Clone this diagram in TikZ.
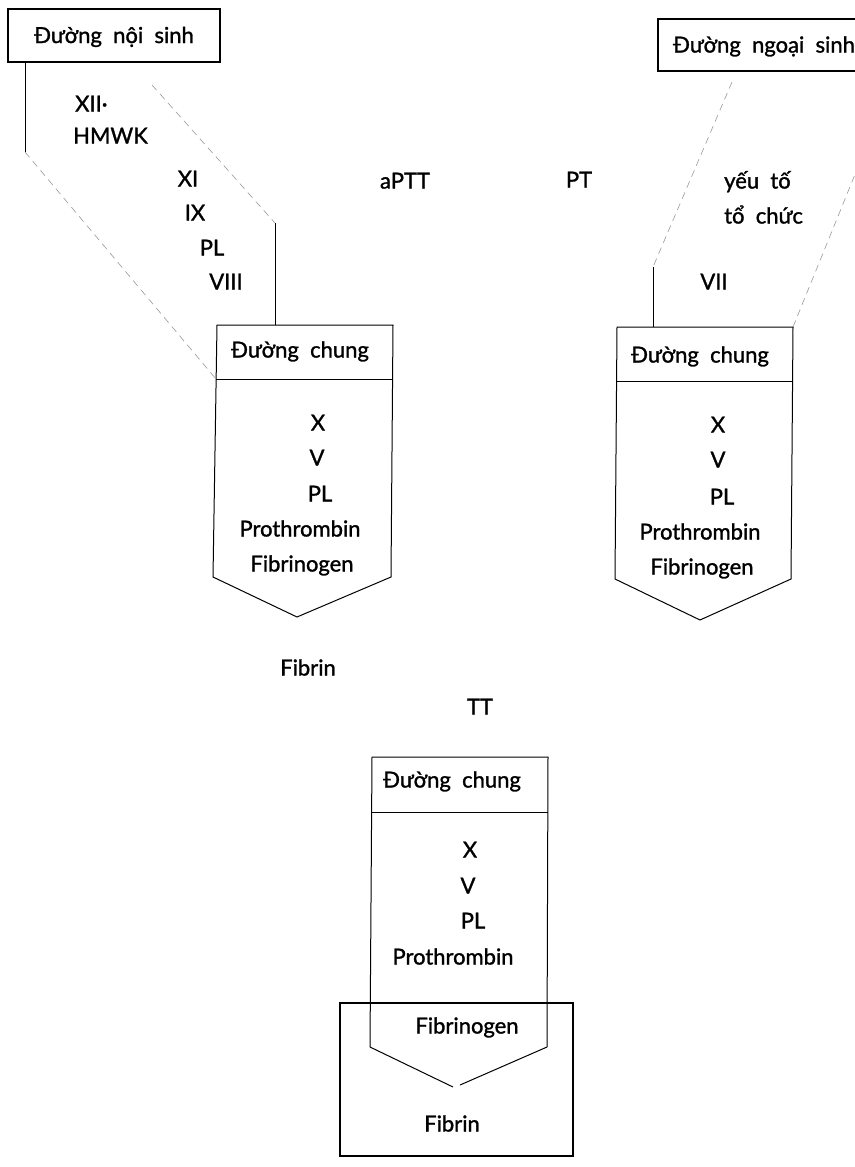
\documentclass[tikz,border=0pt]{standalone}
\usepackage{fontspec}
\setmainfont{Lato}[UprightFeatures={FakeBold=1.3}]
\begin{document}
\begin{tikzpicture}[x=1pt,y=-1pt]
\tikzset{
  lbl/.style={font=\fontsize{22}{26}\selectfont, inner sep=0pt, text height=15pt, text depth=0pt},
  frame/.style={draw, line width=1.4pt, inner sep=0pt, text height=15pt, text depth=0pt, font=\fontsize{22}{26}\selectfont},
  side/.style={draw, line width=1pt},
  faint/.style={draw=black!40, line width=0.6pt, dash pattern=on 7pt off 5pt}
}
\useasboundingbox (0,0) rectangle (854,1167);
\fill[white] (0,0) rectangle (854,1167);

% title boxes
\node[frame, minimum width=212pt, minimum height=53pt] (ns) at (114,35.5) {Đường\ \ nội\ \ sinh};
\node[frame, minimum width=212pt, minimum height=52pt] (ngs) at (764,45) {Đường\ \ ngoại\ \ sinh};

% ---- box 1 (intrinsic common pathway)
\coordinate (b1tl) at (217,325); \coordinate (b1tr) at (393,325);
\coordinate (b1br) at (391,577); \coordinate (b1tip) at (297,617);
\coordinate (b1bl) at (213,577);
\coordinate (b1dl) at (216,379); \coordinate (b1dr) at (392,379);
\draw[side] (b1tl) -- (b1tr) -- (b1br) -- (b1tip) -- (b1bl) -- cycle;
\draw[side] (b1dl) -- (b1dr);

% intrinsic paths
\coordinate (ns1) at (25,62); \coordinate (ns2) at (25,152);
\draw[side] (ns1) -- (ns2);
\draw[faint] (ns2) -- (b1dl);
\coordinate (i1) at (152,85); \coordinate (i2) at (275,223); \coordinate (i3) at (275,325);
\draw[faint] (i1) -- (i2);
\draw[side] (i2) -- (i3);

% ---- box 2 (extrinsic common pathway)
\coordinate (b2tl) at (617,327); \coordinate (b2tr) at (793,327);
\coordinate (b2br) at (791,579); \coordinate (b2tip) at (700,620);
\coordinate (b2bl) at (615,579);
\coordinate (b2dl) at (616,381); \coordinate (b2dr) at (792,381);
\draw[side] (b2tl) -- (b2tr) -- (b2br) -- (b2tip) -- (b2bl) -- cycle;
\draw[side] (b2dl) -- (b2dr);

\coordinate (e1) at (732,82); \coordinate (e2) at (653,267); \coordinate (e3) at (653,327);
\coordinate (e4) at (871,135);
\draw[faint] (e1) -- (e2);
\draw[side] (e2) -- (e3);
\draw[faint] (b2tr) -- (e4);

% ---- box 3
\coordinate (b3tl) at (372,757); \coordinate (b3tr) at (548,757);
\coordinate (b3br) at (547,1047); \coordinate (b3bl) at (370,1047);
\coordinate (b3tipl) at (453,1087); \coordinate (b3tipr) at (460,1085);
\coordinate (b3dl) at (371,812); \coordinate (b3dr) at (548,812);
\draw[side] (b3bl) -- (b3tl) -- (b3tr) -- (b3br);
\draw[side] (b3bl) -- (b3tipl);
\draw[side] (b3br) -- (b3tipr);
\draw[side] (b3dl) -- (b3dr);
\node[draw, line width=1.4pt, minimum width=233pt, minimum height=153pt, inner sep=0pt] (fb) at (456.5,1079.5) {};

% ---- labels
\node[lbl, anchor=west] (l1) at (75,104) {XII·};
\node[lbl, anchor=west] (l2) at (73,136) {HMWK};
\node[lbl] (l3) at (188,179) {XI};
\node[lbl] (l4) at (195,213) {IX};
\node[lbl] (l5) at (212,248) {PL};
\node[lbl] (l6) at (226,282) {VIII};
\node[lbl] (aptt) at (405,181) {aPTT};
\node[lbl] (pt) at (579,180) {PT};
\node[lbl, anchor=west] (yt) at (724,181) {yếu\ \ tố};
\node[lbl, anchor=west] (tc) at (724,216) {tổ\ \ chức};
\node[lbl] (vii) at (714,282) {VII};

\node[lbl] (c1) at (300,350) {Đường\ \ chung};
\node[lbl] (c1x) at (318,423) {X};
\node[lbl] (c1v) at (317,458) {V};
\node[lbl] (c1p) at (320,494) {PL};
\node[lbl] (c1pr) at (300,529) {Prothrombin};
\node[lbl] (c1f) at (302,564) {Fibrinogen};

\node[lbl] (c2) at (700,355) {Đường\ \ chung};
\node[lbl] (c2x) at (718,425) {X};
\node[lbl] (c2v) at (718,460) {V};
\node[lbl] (c2p) at (722,497) {PL};
\node[lbl] (c2pr) at (700,532) {Prothrombin};
\node[lbl] (c2f) at (702,567) {Fibrinogen};

\node[lbl] (fib) at (308,668) {Fibrin};
\node[lbl] (tt) at (480,707) {TT};

\node[lbl] (c3) at (452,780) {Đường\ \ chung};
\node[lbl] (c3x) at (470,850) {X};
\node[lbl] (c3v) at (468,886) {V};
\node[lbl] (c3p) at (473,921) {PL};
\node[lbl] (c3pr) at (453,957) {Prothrombin};
\node[lbl] (c3f) at (467,1026) {Fibrinogen};
\node[lbl] (c3fb) at (452,1124) {Fibrin};
\end{tikzpicture}
\end{document}
